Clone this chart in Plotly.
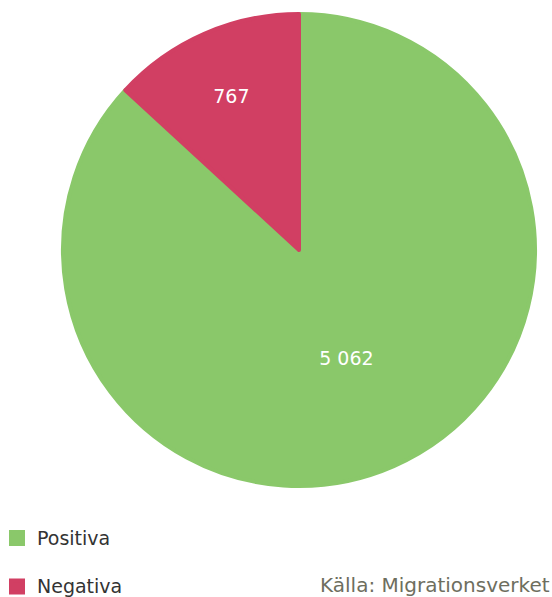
import plotly.graph_objects as go

categories = ["Positiva", "Negativa"]
values = [5062, 767]
colors = ["#8AC86A", "#D13F63"]
source = "Källa: Migrationsverket"

W, H = 552, 597
FONT = "DejaVu Sans"
LEG_FS = 17.5
TXT_FS = 19

labels_text = [f"{v:,}".replace(",", " ") for v in values]
legend_labels = [
    f"<span style='font-size:{TXT_FS}px'>{categories[0]}</span><br> ",
    f"<span style='font-size:{TXT_FS}px'>{categories[1]}</span>",
]

R_PAD = 2  # compensate marker line width (4px) growing the pie
fig = go.Figure(
    go.Pie(
        labels=legend_labels,
        values=values,
        text=labels_text,
        textinfo="text",
        textposition="inside",
        insidetextorientation="horizontal",
        insidetextfont=dict(color="white", size=TXT_FS, family=FONT),
        marker=dict(colors=colors, line=dict(width=4, color=colors)),
        sort=False,
        direction="clockwise",
        rotation=0,
        hoverinfo="skip",
        domain=dict(
            x=[(61 + R_PAD) / W, (537 - R_PAD) / W],
            y=[1 - (488 - R_PAD) / H, 1 - (12 + R_PAD) / H],
        ),
    )
)

fig.update_layout(
    width=W,
    height=H,
    margin=dict(l=0, r=0, t=0, b=0, autoexpand=False),
    paper_bgcolor="white",
    plot_bgcolor="white",
    font=dict(family=FONT, size=TXT_FS, color="#333333"),
    showlegend=True,
    legend=dict(
        x=-3 / W,
        xanchor="left",
        y=-8 / H,
        yanchor="bottom",
        valign="top",
        font=dict(family=FONT, size=LEG_FS, color="#333333"),
        bgcolor="rgba(0,0,0,0)",
        itemclick=False,
        itemdoubleclick=False,
    ),
    annotations=[
        dict(
            text=source,
            x=1,
            xref="paper",
            xanchor="right",
            y=0,
            yref="paper",
            yanchor="bottom",
            yshift=-2,
            xshift=0,
            showarrow=False,
            font=dict(family=FONT, size=20, color="#6E6E5E"),
        )
    ],
)

fig.write_html(
    "out.html",
    config={"displayModeBar": False},
    post_script="document.body.style.margin='0';",
)
